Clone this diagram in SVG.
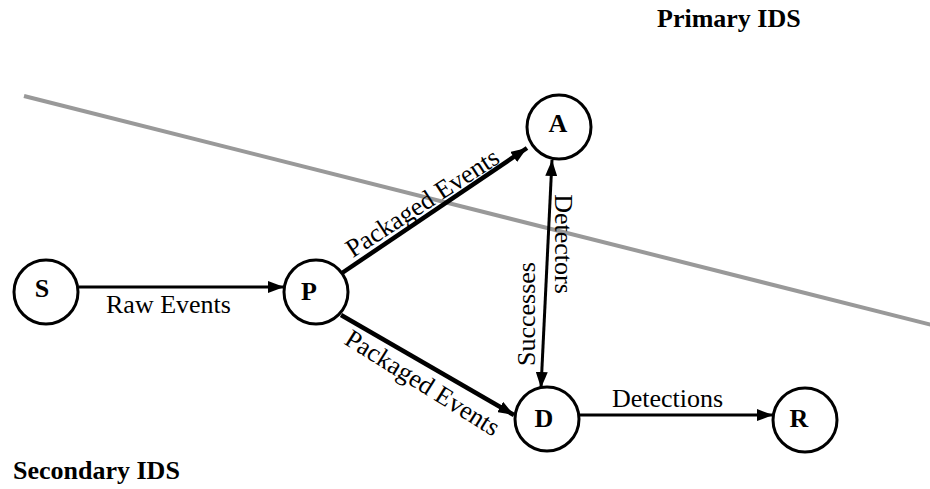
<svg xmlns="http://www.w3.org/2000/svg" width="930" height="489" viewBox="0 0 930 489">
  <style>
    .node circle { fill: #fff; stroke: #000; stroke-width: 3; }
    .node text { font-family: "Liberation Serif", "Times New Roman", serif; font-weight: bold; font-size: 26px; text-anchor: middle; fill: #000; }
    .edge { stroke: #000; fill: none; }
    .thin { stroke-width: 3; }
    .thick { stroke-width: 4.5; }
    .lbl { font-family: "Liberation Serif", "Times New Roman", serif; font-size: 26px; fill: #000; }
    .title { font-family: "Liberation Serif", "Times New Roman", serif; font-size: 26px; font-weight: bold; fill: #000; }
  </style>
  <defs>
    <marker id="arrow" viewBox="0 0 16 12" refX="16" refY="6" markerWidth="16" markerHeight="12" markerUnits="userSpaceOnUse" orient="auto-start-reverse">
      <path d="M0,0 L16,6 L0,12 Z" fill="#000"/>
    </marker>
  </defs>

  <rect width="930" height="489" fill="#fff"/>

  <!-- boundary between the two IDS zones -->
  <line id="boundary" x1="24" y1="96" x2="932" y2="325" stroke="#999" stroke-width="4"/>

  <text class="title" x="657" y="27">Primary IDS</text>
  <text class="title" x="13" y="479">Secondary IDS</text>

  <g id="connectors">
    <line class="edge thin" x1="79" y1="287" x2="284" y2="287" marker-end="url(#arrow)"/>
    <line class="edge thick" x1="342" y1="273" x2="527" y2="148" marker-end="url(#arrow)"/>
    <line class="edge thick" x1="341" y1="315" x2="514" y2="415" marker-end="url(#arrow)"/>
    <line class="edge thin" x1="552" y1="160" x2="541" y2="388" marker-start="url(#arrow)" marker-end="url(#arrow)"/>
    <line class="edge thin" x1="580" y1="415" x2="773" y2="415" marker-end="url(#arrow)"/>

    <text class="lbl" x="168.5" y="313" text-anchor="middle">Raw Events</text>
    <text class="lbl" text-anchor="middle" transform="translate(427,210) rotate(-33)">Packaged Events</text>
    <text class="lbl" text-anchor="middle" transform="translate(418,390) rotate(32)">Packaged Events</text>
    <text class="lbl" text-anchor="middle" transform="translate(555,244) rotate(90)">Detectors</text>
    <text class="lbl" text-anchor="middle" transform="translate(535,314) rotate(-90)">Successes</text>
    <text class="lbl" x="667.5" y="407" text-anchor="middle">Detections</text>
  </g>

  <g id="node-S" class="node">
    <circle cx="46" cy="292" r="32"/>
    <text x="42" y="297">S</text>
  </g>
  <g id="node-P" class="node">
    <circle cx="316" cy="292" r="32"/>
    <text x="309" y="300">P</text>
  </g>
  <g id="node-A" class="node">
    <circle cx="559" cy="127" r="32"/>
    <text x="558" y="132">A</text>
  </g>
  <g id="node-D" class="node">
    <circle cx="547" cy="419" r="32"/>
    <text x="544" y="427">D</text>
  </g>
  <g id="node-R" class="node">
    <circle cx="805" cy="420" r="32"/>
    <text x="799" y="427">R</text>
  </g>
</svg>
